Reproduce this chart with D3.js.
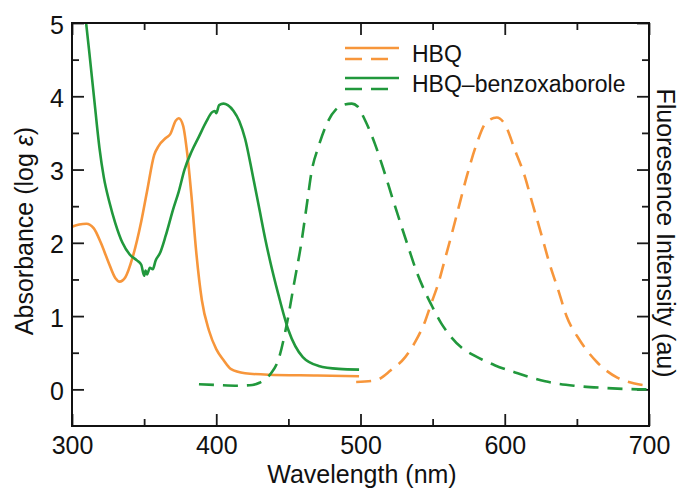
<!DOCTYPE html>
<html>
<head>
<meta charset="utf-8">
<script src="https://cdn.jsdelivr.net/npm/d3@7"></script>
<style>
  body { margin: 0; background: #fff; }
  text { font-family: "Liberation Sans", Arial, sans-serif; fill: #111; }
</style>
</head>
<body>
<div id="chart"></div>
<script>
// configure chart
const width = 685
const height = 491
const margin = {top: 23, right: 36, bottom: 65, left: 72}

const orange = '#f7963b'
const green = '#21983c'

// wavelength ticks
var xMajor = [300, 400, 500, 600, 700];
var xMinor = [350, 450, 550, 650];
var yMajor = [0, 1, 2, 3, 4, 5];
var yMinor = [0.5, 1.5, 2.5, 3.5, 4.5];

// HBQ absorption (nm, log eps)
var hbqAbsX = [300, 305, 310, 315, 320, 325, 330, 333, 337, 342, 348, 352, 357, 360, 365, 368, 372, 374, 377, 380, 383, 386, 390, 395, 400, 405, 410, 420, 436, 470, 499];
var hbqAbsY = [2.22, 2.25, 2.26, 2.2, 2.0, 1.75, 1.52, 1.47, 1.53, 1.8, 2.29, 2.7, 3.2, 3.32, 3.43, 3.48, 3.67, 3.7, 3.6, 3.2, 2.6, 1.9, 1.22, 0.8, 0.55, 0.4, 0.28, 0.22, 0.2, 0.19, 0.18];

// HBQ-benzoxaborole absorption
var hbqBxAbsX = [309.5, 312, 315.4, 319, 322, 326, 330, 335, 340, 345, 348, 350, 351, 352, 354, 356, 358, 361, 365, 370, 374, 378, 383, 388, 393, 397, 399, 400, 402, 405, 408, 412, 416, 420, 425, 430, 434, 437, 443, 450, 460, 471, 485, 499];
var hbqBxAbsY = [5.05, 4.6, 3.96, 3.3, 2.9, 2.55, 2.27, 2.0, 1.84, 1.76, 1.7, 1.55, 1.62, 1.57, 1.66, 1.64, 1.76, 1.86, 2.1, 2.45, 2.7, 3.0, 3.25, 3.45, 3.65, 3.78, 3.8, 3.77, 3.88, 3.9, 3.88, 3.8, 3.66, 3.42, 2.95, 2.45, 2.05, 1.78, 1.3, 0.81, 0.44, 0.32, 0.28, 0.27];

// HBQ fluorescence
var hbqFlX = [497, 510, 521, 531, 538, 545, 549, 554, 559, 563, 568, 574, 580, 587, 594.5, 600, 607, 614, 619, 625, 631, 637, 643, 652, 664, 678, 690, 699];
var hbqFlY = [0.1, 0.12, 0.26, 0.44, 0.65, 0.94, 1.17, 1.45, 1.81, 2.1, 2.48, 2.93, 3.32, 3.64, 3.71, 3.62, 3.27, 2.9, 2.55, 2.14, 1.72, 1.36, 0.99, 0.67, 0.37, 0.16, 0.08, 0.05];

// HBQ-benzoxaborole fluorescence
var hbqBxFlX = [388, 400, 415, 425, 430, 434, 438, 443, 449, 454, 459, 463, 466, 471, 477, 483, 488, 494, 498, 503, 510, 516, 522, 528, 533, 539, 545, 550, 556, 561, 570, 577, 585, 593, 609, 628, 648, 669, 697, 700];
var hbqBxFlY = [0.07, 0.06, 0.05, 0.06, 0.09, 0.14, 0.22, 0.4, 0.9, 1.45, 2.0, 2.55, 2.96, 3.32, 3.64, 3.82, 3.88, 3.9, 3.86, 3.68, 3.35, 3.0, 2.62, 2.25, 1.95, 1.6, 1.32, 1.12, 0.9, 0.76, 0.57, 0.48, 0.4, 0.33, 0.22, 0.11, 0.05, 0.02, 0.0, 0.0];

window.onload = function(){
	var svg = d3.select('#chart').append('svg')
		.attr('width', width)
		.attr('height', height);
	draw_chart(svg);
}

function draw_chart(svg){
	var x = d3.scaleLinear().domain([300, 700]).range([margin.left, width - margin.right]);
	var y = d3.scaleLinear().domain([-0.5, 5]).range([height - margin.bottom, margin.top]);
	var x0 = margin.left, x1 = width - margin.right;
	var y0 = height - margin.bottom, y1 = margin.top;

	svg.append('clipPath').attr('id', 'plot-clip')
		.append('rect').attr('x', x0).attr('y', y1).attr('width', x1 - x0).attr('height', y0 - y1);

	// ticks, all pointing inward
	function ticks(axis, vals, size, labels){
		return axis.tickValues(vals).tickSizeInner(-size).tickSizeOuter(0)
			.tickFormat(labels ? d3.format('d') : '');
	}
	var axes = [
		[d3.axisBottom(x), xMajor, 12, true, 'translate(0,' + y0 + ')'],
		[d3.axisBottom(x), xMinor, 7, false, 'translate(0,' + y0 + ')'],
		[d3.axisTop(x), xMajor, 12, false, 'translate(0,' + y1 + ')'],
		[d3.axisTop(x), xMinor, 7, false, 'translate(0,' + y1 + ')'],
		[d3.axisLeft(y), yMajor, 12, true, 'translate(' + x0 + ',0)'],
		[d3.axisLeft(y), yMinor, 7, false, 'translate(' + x0 + ',0)'],
		[d3.axisRight(y), yMajor, 12, false, 'translate(' + x1 + ',0)'],
		[d3.axisRight(y), yMinor, 7, false, 'translate(' + x1 + ',0)']
	];
	axes.forEach(function(a, i){
		var g = svg.append('g').attr('transform', a[4])
			.call(ticks(a[0], a[1], a[2], a[3]));
		g.select('.domain').remove();
		g.selectAll('line').attr('stroke', '#1a1a1a').attr('stroke-width', 1.8);
		g.selectAll('text').style('font-size', '25px')
			.style('font-family', '"Liberation Sans", Arial, sans-serif').attr('fill', '#111');
		if (i == 0) g.selectAll('text').attr('y', 10);
		if (i == 4) g.selectAll('text').attr('x', -8).attr('dy', '0.4em');
	});

	// curves
	var line = d3.line()
		.x(function(d){ return x(d[0]); })
		.y(function(d){ return y(d[1]); })
		.curve(d3.curveMonotoneX);
	var series = [
		[hbqAbsX, hbqAbsY, orange, null],
		[hbqBxAbsX, hbqBxAbsY, green, null],
		[hbqBxFlX, hbqBxFlY, green, '15,9'],
		[hbqFlX, hbqFlY, orange, '15,9']
	];
	var curves = svg.append('g').attr('clip-path', 'url(#plot-clip)');
	series.forEach(function(s){
		curves.append('path')
			.attr('d', line(d3.zip(s[0], s[1])))
			.attr('fill', 'none')
			.attr('stroke', s[2])
			.attr('stroke-width', 2.6)
			.attr('stroke-dasharray', s[3]);
	});

	// frame
	svg.append('rect')
		.attr('x', x0).attr('y', y1).attr('width', x1 - x0).attr('height', y0 - y1)
		.attr('fill', 'none').attr('stroke', '#111').attr('stroke-width', 2);

	// legend
	var legend = [['HBQ', orange, 48], ['HBQ\u2013benzoxaborole', green, 78]];
	legend.forEach(function(l){
		svg.append('line').attr('x1', 345).attr('x2', 399).attr('y1', l[2]).attr('y2', l[2])
			.attr('stroke', l[1]).attr('stroke-width', 2.6);
		svg.append('line').attr('x1', 345).attr('x2', 389).attr('y1', l[2] + 11).attr('y2', l[2] + 11)
			.attr('stroke', l[1]).attr('stroke-width', 2.6).attr('stroke-dasharray', '17,9');
		svg.append('text').attr('x', 412).attr('y', l[2] + 14)
			.style('font-size', '23px').text(l[0]);
	});

	// axis titles
	svg.append('text').attr('x', 362).attr('y', 483)
		.attr('text-anchor', 'middle').style('font-size', '25px').text('Wavelength (nm)');
	var yt = svg.append('text').attr('transform', 'translate(33,231) rotate(-90)')
		.attr('text-anchor', 'middle').style('font-size', '25px');
	yt.append('tspan').text('Absorbance (log ');
	yt.append('tspan').style('font-style', 'italic').text('\u03b5');
	yt.append('tspan').text(')');
	svg.append('text').attr('transform', 'translate(657,233) rotate(90)')
		.attr('text-anchor', 'middle').style('font-size', '25px').text('Fluoresence Intensity (au)');
}
</script>
</body>
</html>
